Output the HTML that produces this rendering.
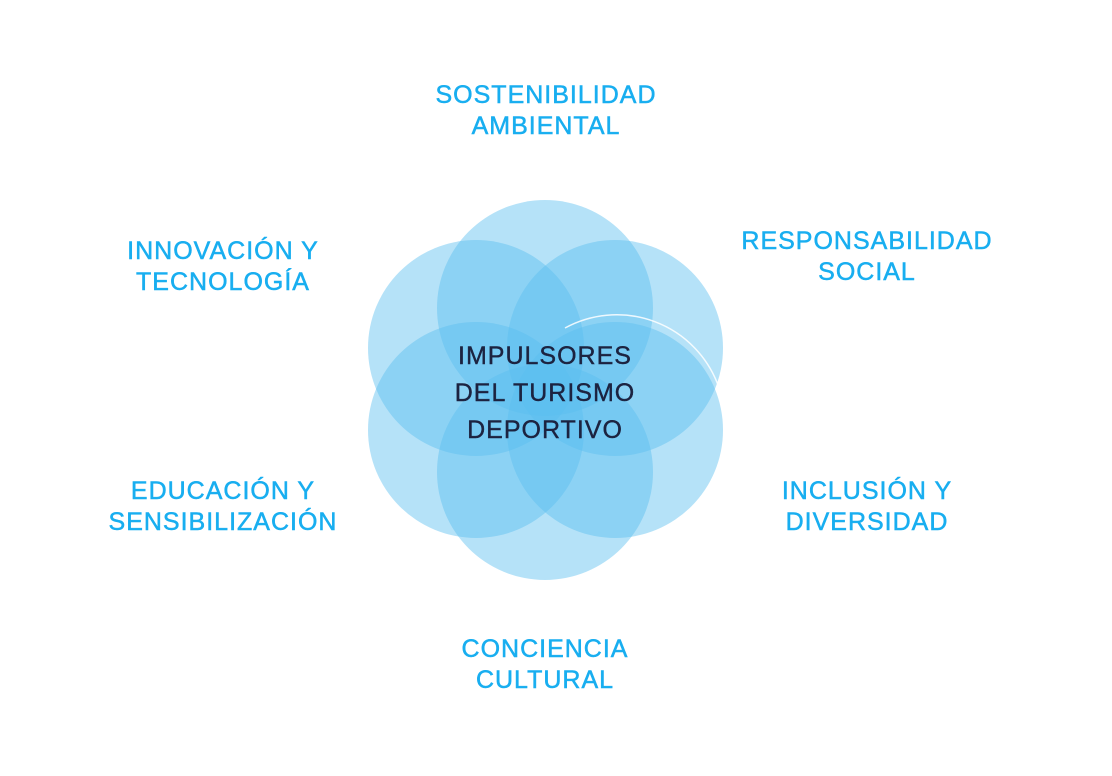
<!DOCTYPE html>
<html><head><meta charset="utf-8"><style>
html,body{margin:0;padding:0;background:#fff;width:1112px;height:776px;overflow:hidden}
.l{position:absolute;font-family:"Liberation Sans",sans-serif;color:#18aef0;font-size:25px;line-height:31px;text-align:center;letter-spacing:1px;transform:translateX(-50%);white-space:nowrap;-webkit-text-stroke:0.5px #18aef0}
</style></head><body>
<svg width="1112" height="776" style="position:absolute;left:0;top:0">
<g fill="rgb(90,190,240)" fill-opacity="0.45">
<circle cx="545" cy="308" r="108"/>
<circle cx="476" cy="348" r="108"/>
<circle cx="615" cy="348" r="108"/>
<circle cx="476" cy="430" r="108"/>
<circle cx="615" cy="430" r="108"/>
<circle cx="545" cy="472" r="108"/>
</g>
<path d="M565 328 A108 108 0 0 1 718 385" fill="none" stroke="#fff" stroke-opacity="0.85" stroke-width="1.5"/>
<g font-family="Liberation Sans,sans-serif" font-size="25" fill="#1c2340" stroke="#1c2340" stroke-width="0.4" letter-spacing="1" text-anchor="middle">
<text x="545" y="364">IMPULSORES</text>
<text x="545" y="401">DEL TURISMO</text>
<text x="545" y="438">DEPORTIVO</text>
</g>
</svg>
<div class="l" style="left:546px;top:80px">SOSTENIBILIDAD<br>AMBIENTAL</div>
<div class="l" style="left:867px;top:226px">RESPONSABILIDAD<br>SOCIAL</div>
<div class="l" style="left:223px;top:236px">INNOVACIÓN Y<br>TECNOLOGÍA</div>
<div class="l" style="left:223px;top:476px">EDUCACIÓN Y<br>SENSIBILIZACIÓN</div>
<div class="l" style="left:867px;top:476px">INCLUSIÓN Y<br>DIVERSIDAD</div>
<div class="l" style="left:545px;top:634px">CONCIENCIA<br>CULTURAL</div>
</body></html>
